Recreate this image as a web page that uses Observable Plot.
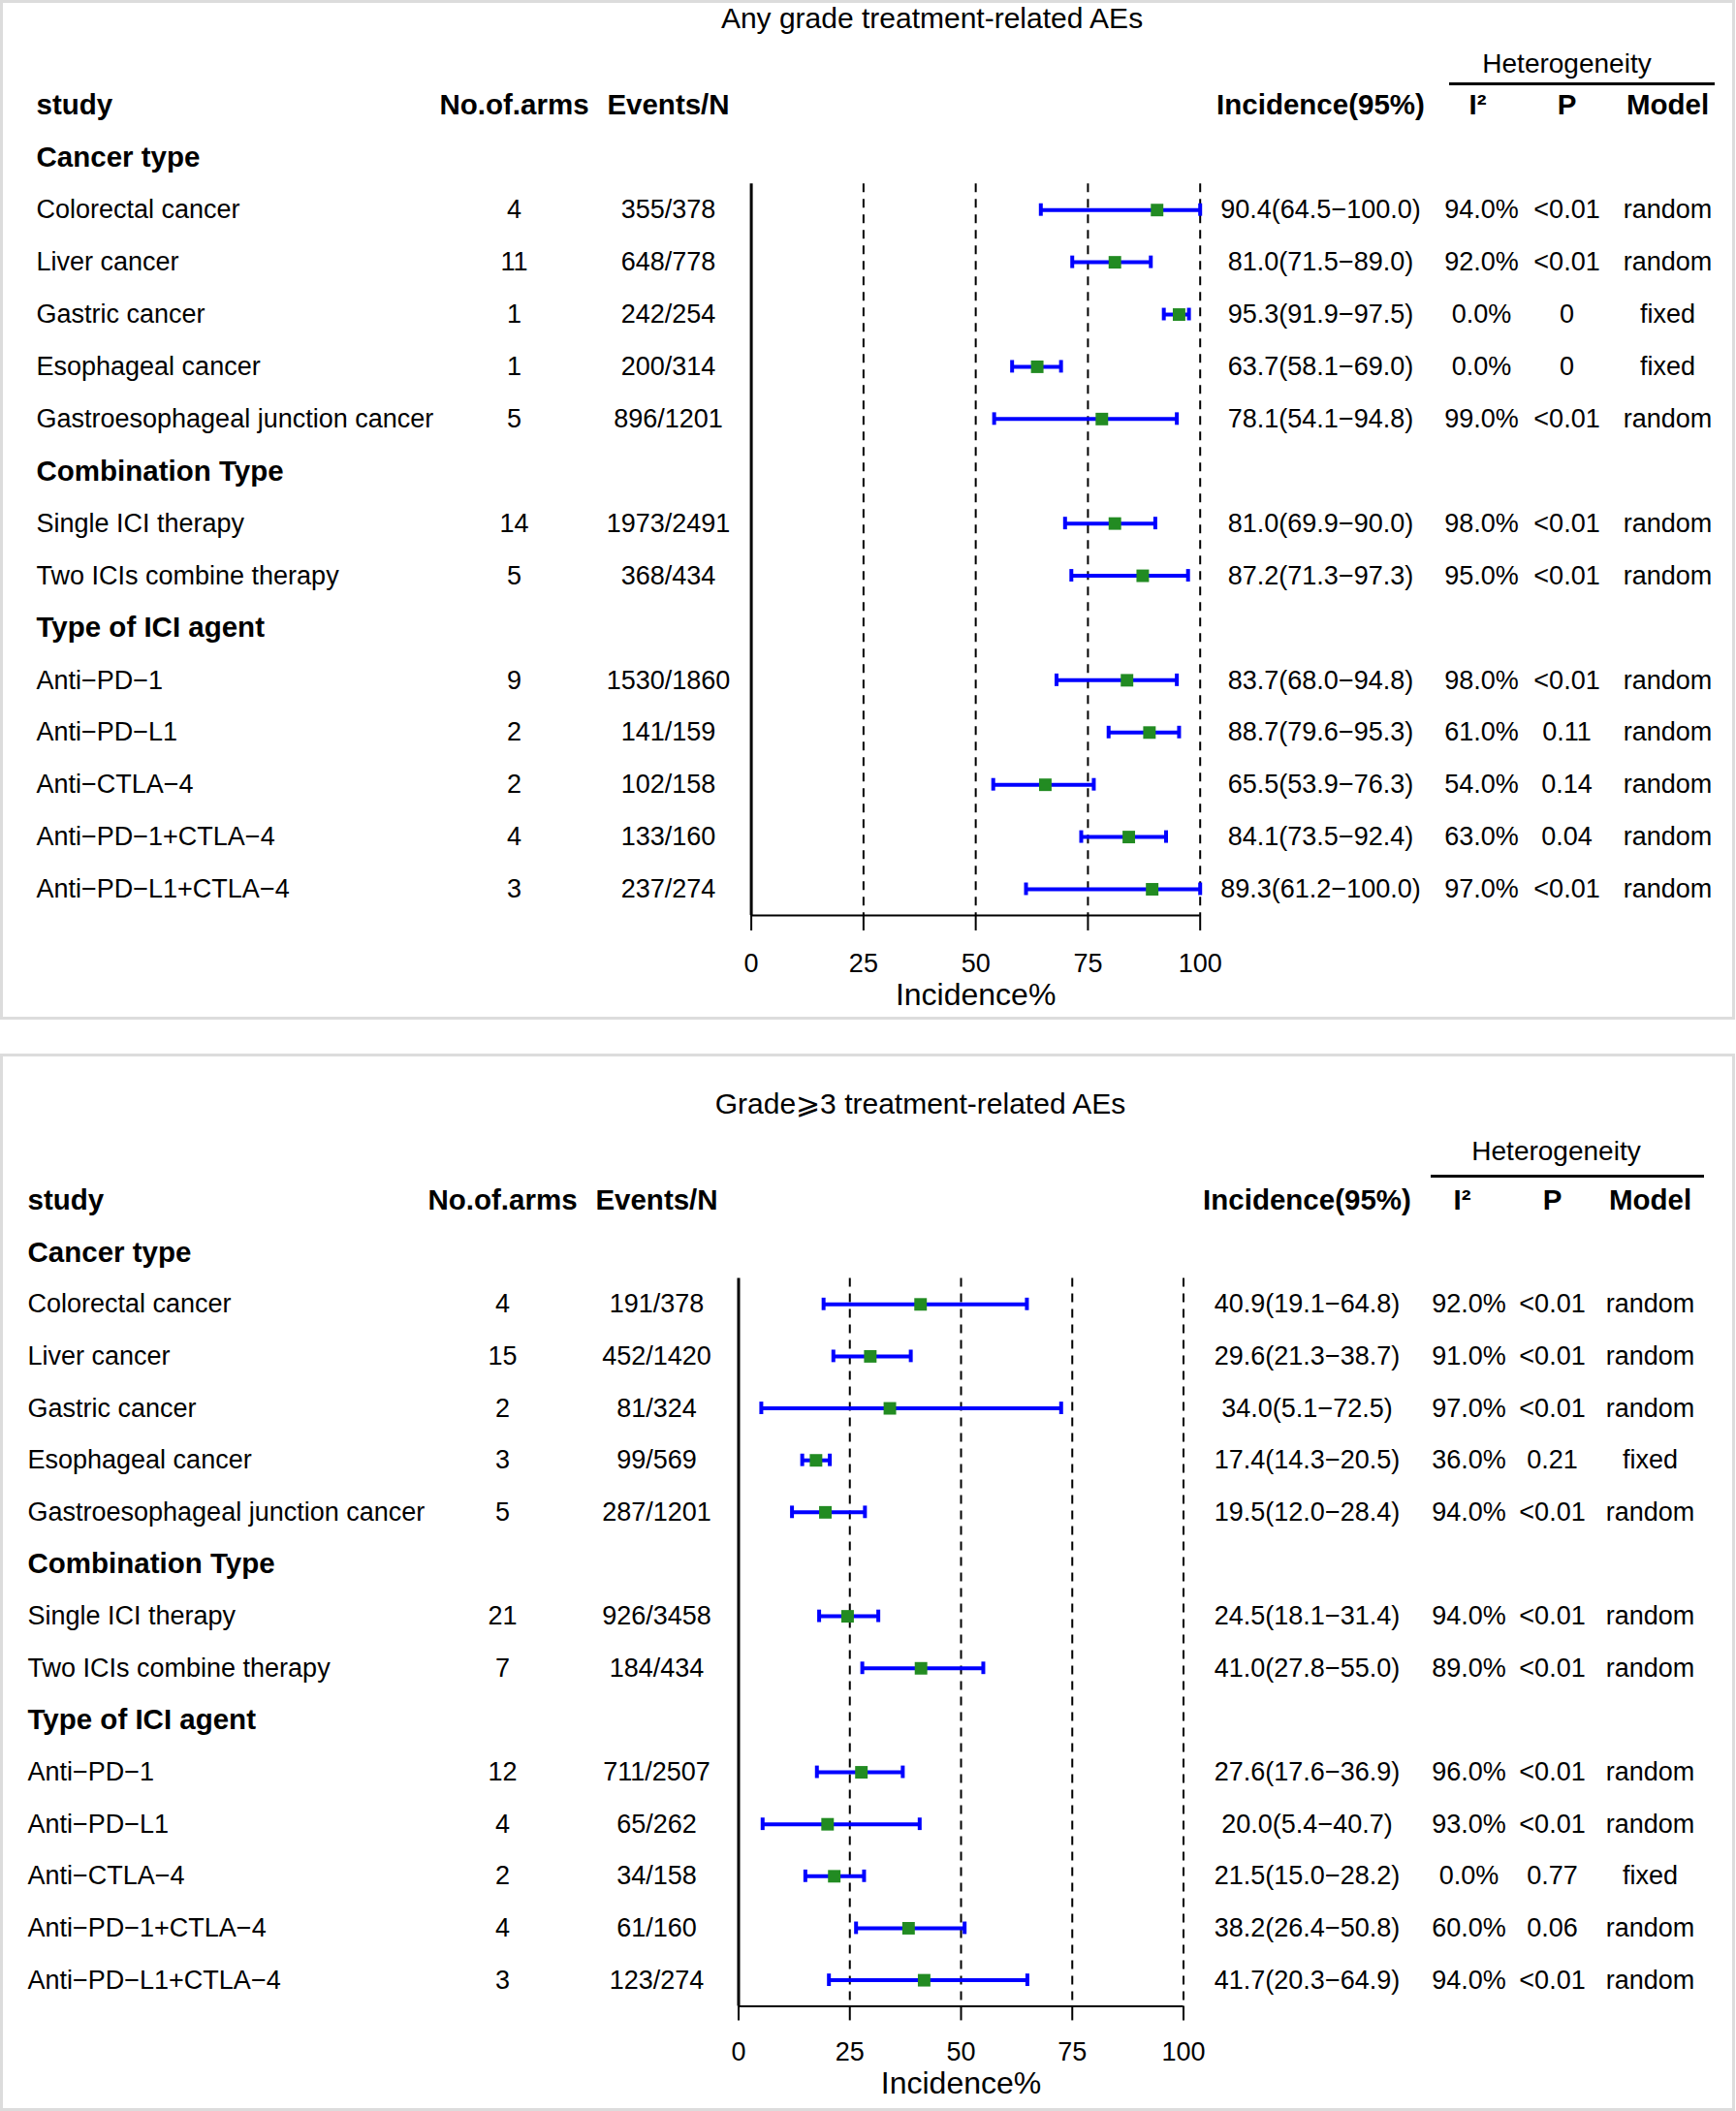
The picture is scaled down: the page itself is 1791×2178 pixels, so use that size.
<!DOCTYPE html>
<html>
<head>
<meta charset="utf-8">
<script src="https://cdn.jsdelivr.net/npm/d3@7"></script>
<script src="https://cdn.jsdelivr.net/npm/@observablehq/plot@0.6"></script>
<style>
html, body { margin: 0; padding: 0; background: #fff; }
#wrap { position: relative; width: 1791px; height: 2178px; overflow: hidden; background: #fff; }
.panel { position: absolute; left: 0; }
.border { position: absolute; box-sizing: border-box; border: 3px solid #dcdcdc; pointer-events: none; }
</style>
</head>
<body>
<div id="wrap"></div>
<script>
// ---------- data ----------
const groupNames = ["Cancer type", "Combination Type", "Type of ICI agent"];
const groupItems = [
  ["Colorectal cancer", "Liver cancer", "Gastric cancer", "Esophageal cancer", "Gastroesophageal junction cancer"],
  ["Single ICI therapy", "Two ICIs combine therapy"],
  ["Anti\u2212PD\u22121", "Anti\u2212PD\u2212L1", "Anti\u2212CTLA\u22124", "Anti\u2212PD\u22121+CTLA\u22124", "Anti\u2212PD\u2212L1+CTLA\u22124"]
];
const axisTicks = [0, 25, 50, 75, 100];

// Panel 1: Any grade treatment-related AEs
const title1 = "Any grade treatment-related AEs";
const arms1 = [4, 11, 1, 1, 5, 14, 5, 9, 2, 2, 4, 3];
const events1 = ["355/378", "648/778", "242/254", "200/314", "896/1201", "1973/2491", "368/434", "1530/1860", "141/159", "102/158", "133/160", "237/274"];
const est1 = [90.4, 81.0, 95.3, 63.7, 78.1, 81.0, 87.2, 83.7, 88.7, 65.5, 84.1, 89.3];
const lo1 = [64.5, 71.5, 91.9, 58.1, 54.1, 69.9, 71.3, 68.0, 79.6, 53.9, 73.5, 61.2];
const hi1 = [100.0, 89.0, 97.5, 69.0, 94.8, 90.0, 97.3, 94.8, 95.3, 76.3, 92.4, 100.0];
const i2_1 = ["94.0%", "92.0%", "0.0%", "0.0%", "99.0%", "98.0%", "95.0%", "98.0%", "61.0%", "54.0%", "63.0%", "97.0%"];
const p1 = ["<0.01", "<0.01", "0", "0", "<0.01", "<0.01", "<0.01", "<0.01", "0.11", "0.14", "0.04", "<0.01"];
const model1 = ["random", "random", "fixed", "fixed", "random", "random", "random", "random", "random", "random", "random", "random"];

// Panel 2: Grade>=3 treatment-related AEs
const title2 = "Grade\u2A7E3 treatment-related AEs";
const arms2 = [4, 15, 2, 3, 5, 21, 7, 12, 4, 2, 4, 3];
const events2 = ["191/378", "452/1420", "81/324", "99/569", "287/1201", "926/3458", "184/434", "711/2507", "65/262", "34/158", "61/160", "123/274"];
const est2 = [40.9, 29.6, 34.0, 17.4, 19.5, 24.5, 41.0, 27.6, 20.0, 21.5, 38.2, 41.7];
const lo2 = [19.1, 21.3, 5.1, 14.3, 12.0, 18.1, 27.8, 17.6, 5.4, 15.0, 26.4, 20.3];
const hi2 = [64.8, 38.7, 72.5, 20.5, 28.4, 31.4, 55.0, 36.9, 40.7, 28.2, 50.8, 64.9];
const i2_2 = ["92.0%", "91.0%", "97.0%", "36.0%", "94.0%", "94.0%", "89.0%", "96.0%", "93.0%", "0.0%", "60.0%", "94.0%"];
const p2 = ["<0.01", "<0.01", "<0.01", "0.21", "<0.01", "<0.01", "<0.01", "<0.01", "<0.01", "0.77", "0.06", "<0.01"];
const model2 = ["random", "random", "random", "fixed", "random", "random", "random", "random", "random", "fixed", "random", "random"];

// ---------- layout (pixels) ----------
const FONT = "'Liberation Sans', Arial, Helvetica, sans-serif";
const layout1 = {
  top: 0, height: 1050,
  x0: 774.6, x100: 1237.7, yHeader: 108.4, yLast: 917,
  label: 37, arms: 530, events: 689, inc: 1362, i2: 1528, i2h: 1524, p: 1616, model: 1720,
  title: 961, titleY: 19, het: 1616, hetY: 66, ul1: 1495, ul2: 1769, ulY: 86,
  tickSize: 16, tickPad: 23, axLabelDy: 82
};
const layout2 = {
  top: 1088, height: 1090,
  x0: 761.5, x100: 1220.5, yHeader: 150, yLast: 954.6,
  label: 28, arms: 518, events: 677, inc: 1348, i2: 1515, i2h: 1508, p: 1601, model: 1702,
  title: 949, titleY: 51, het: 1605, hetY: 100, ul1: 1476, ul2: 1758, ulY: 125,
  tickSize: 15, tickPad: 22, axLabelDy: 80
};

function buildRows(arms, events, est, lo, hi, i2, p, model) {
  const rows = [];
  let idx = 1, k = 0;
  groupNames.forEach((g, gi) => {
    rows.push({ idx: idx++, kind: "group", label: g });
    groupItems[gi].forEach(name => {
      rows.push({
        idx: idx++, kind: "item", label: name,
        arms: String(arms[k]), events: events[k],
        est: est[k], lo: lo[k], hi: hi[k],
        inc: `${est[k].toFixed(1)}(${lo[k].toFixed(1)}\u2212${hi[k].toFixed(1)})`,
        i2: i2[k], p: p[k], model: model[k]
      });
      k++;
    });
  });
  return rows;
}

function makePanel(L, title, rows) {
  const items = rows.filter(r => r.kind === "item");
  const groups = rows.filter(r => r.kind === "group");
  const nRows = rows.length; // 15 after header
  const axisRow = nRows + 0.5;
  const spacing = (L.yLast - L.yHeader) / nRows;
  const axisY = L.yHeader + axisRow * spacing;
  const blue = "#0000ff", green = "#228b22";
  const cols = [
    { key: "label", anchor: "start" }, { key: "arms" }, { key: "events" },
    { key: "inc" }, { key: "i2" }, { key: "p" }, { key: "model" }
  ];
  const headers = [
    { text: "study", dx: L.label, anchor: "start" },
    { text: "No.of.arms", dx: L.arms },
    { text: "Events/N", dx: L.events },
    { text: "Incidence(95%)", dx: L.inc },
    { text: "I\u00B2", dx: L.i2h },
    { text: "P", dx: L.p },
    { text: "Model", dx: L.model }
  ];
  const marks = [
    // dashed reference lines
    Plot.ruleX(axisTicks.slice(1), { x: d => d, y1: 1.5, y2: axisRow, stroke: "black", strokeWidth: 2, strokeDasharray: "9,7" }),
    // vertical solid line at 0
    Plot.ruleX([0], { y1: 1.5, y2: axisRow, stroke: "black", strokeWidth: 3 }),
    // horizontal axis line
    Plot.ruleY([axisRow], { x1: axisTicks[0], x2: axisTicks[axisTicks.length - 1], stroke: "black", strokeWidth: 2 }),
    Plot.axisX(axisTicks, { anchor: "bottom", tickSize: L.tickSize, tickPadding: L.tickPad, strokeWidth: 2, stroke: "black", fontSize: 27, label: null, tickFormat: d => String(d) }),
    Plot.text(["Incidence%"], { x: () => 50, frameAnchor: "bottom", lineAnchor: "middle", dy: L.axLabelDy, fontSize: 32 }),
    // confidence intervals
    Plot.ruleY(items, { y: "idx", x1: "lo", x2: "hi", stroke: blue, strokeWidth: 4 }),
    Plot.ruleX(items, { x: "lo", y1: d => d.idx - 0.12, y2: d => d.idx + 0.12, stroke: blue, strokeWidth: 4 }),
    Plot.ruleX(items, { x: "hi", y1: d => d.idx - 0.12, y2: d => d.idx + 0.12, stroke: blue, strokeWidth: 4 }),
    Plot.dot(items, { x: "est", y: "idx", symbol: "square", fill: green, r: 7.3, stroke: "none" }),
    // table columns
    ...cols.map(c => Plot.text(items, {
      y: "idx", text: c.key, frameAnchor: "left", dx: L[c.key],
      textAnchor: c.anchor || "middle", fontSize: 27
    })),
    Plot.text(groups, { y: "idx", text: "label", frameAnchor: "left", dx: L.label, textAnchor: "start", fontSize: 29.5, fontWeight: "bold" }),
    ...headers.map(h => Plot.text([h], {
      y: () => 0, text: "text", frameAnchor: "left", dx: h.dx,
      textAnchor: h.anchor || "middle", fontSize: 29.5, fontWeight: "bold"
    })),
    // heterogeneity header and underline
    Plot.text(["Heterogeneity"], { frameAnchor: "top-left", dx: L.het, dy: L.hetY, textAnchor: "middle", lineAnchor: "middle", fontSize: 28 }),
    Plot.ruleY([0], { dy: L.ulY - L.yHeader, insetLeft: L.ul1, insetRight: 1791 - L.ul2, stroke: "black", strokeWidth: 3 }),
    // title
    Plot.text([title], { frameAnchor: "top-left", dx: L.title, dy: L.titleY, textAnchor: "middle", lineAnchor: "middle", fontSize: 30 })
  ];
  return Plot.plot({
    width: 1791,
    height: L.height,
    marginLeft: 0, marginRight: 0, marginTop: 0,
    marginBottom: L.height - axisY,
    x: { domain: [0, 100], range: [L.x0, L.x100], axis: null },
    y: { domain: [0, nRows], range: [L.yHeader, L.yLast], axis: null },
    style: { fontFamily: FONT, fontSize: "27px", color: "black", background: "white", overflow: "visible" },
    marks
  });
}

const wrap = document.getElementById("wrap");
const rows1 = buildRows(arms1, events1, est1, lo1, hi1, i2_1, p1, model1);
const rows2 = buildRows(arms2, events2, est2, lo2, hi2, i2_2, p2, model2);
[[layout1, title1, rows1], [layout2, title2, rows2]].forEach(([L, t, r]) => {
  const svg = makePanel(L, t, r);
  svg.classList.add("panel");
  svg.style.top = L.top + "px";
  wrap.appendChild(svg);
});
// panel frames
[[0, 1052], [1087, 1091]].forEach(([top, h]) => {
  const b = document.createElement("div");
  b.className = "border";
  b.style.left = "0px";
  b.style.top = top + "px";
  b.style.width = "1790px";
  b.style.height = h + "px";
  wrap.appendChild(b);
});
</script>
</body>
</html>
